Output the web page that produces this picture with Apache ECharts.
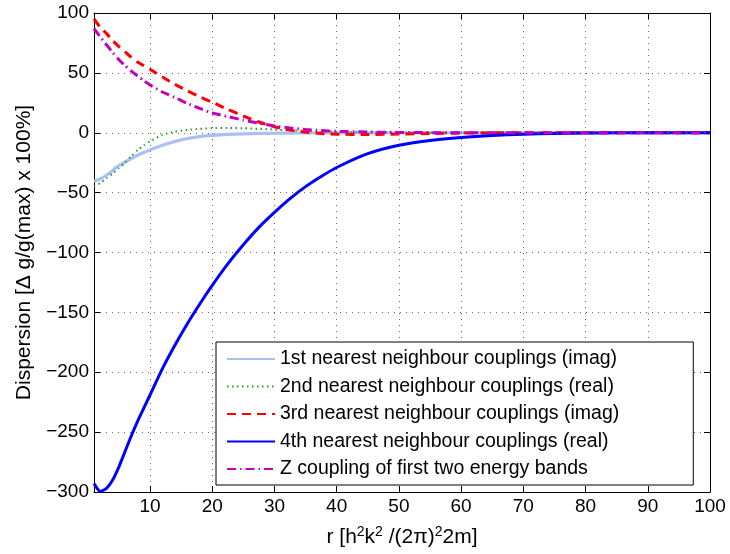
<!DOCTYPE html>
<html><head><meta charset="utf-8">
<script src="https://cdn.jsdelivr.net/npm/echarts@6/dist/echarts.min.js"></script>
<style>html,body{margin:0;padding:0;background:#fff}#c{width:730px;height:554px}</style>
</head><body><div id="c"></div>
<script>
// r values (x axis)
const rValues = [1,2,3,4,5,6,7,8,9,10,12,14,16,18,20,22.5,25,27.5,30,32.5,35,37.5,40,45,50,55,60,65,70,75,80,85,90,95,100];
// 1st nearest neighbour couplings (imag)
const firstImag = [-40.5,-38.5,-35.5,-31.5,-27.5,-24.5,-21.5,-18.8,-16.5,-14.3,-10.5,-7.3,-4.8,-3.2,-2.2,-1.4,-0.9,-0.6,-0.4,-0.25,-0.15,-0.1,-0.05,0,0,0,0,0,0,0,0,0,0,0,0];
// 2nd nearest neighbour couplings (real)
const secondReal = [-45,-42,-38,-34,-29.5,-25,-19.5,-14.5,-10.5,-7.2,-1.8,1.0,2.4,3.3,3.8,4.0,3.8,3.3,2.7,2.0,1.5,1.0,0.7,0.3,0.1,0,0,0,0,0,0,0,0,0,0];
// 3rd nearest neighbour couplings (imag)
const thirdImag = [95,88,83,77,72,67.5,63,59,56,53,46.5,40.5,35,30,25.5,19.5,14,9,5,2.2,0.5,-0.6,-1.2,-1.5,-1.1,-0.6,-0.3,-0.1,0,0,0,0,0,0,0];
// 4th nearest neighbour couplings (real)
const fourthReal = [-293,-299.5,-297,-290,-279,-266,-253,-241,-230,-219,-197,-177.5,-159.5,-143,-127.5,-109.5,-93.5,-79,-66.5,-55,-45,-36.5,-29,-17.5,-10.5,-6.5,-3.9,-2.2,-1.2,-0.6,-0.3,-0.1,0,0,0];
// Z coupling of first two energy bands
const zCoupling = [87,80,73.5,67,61,56,51.5,47.5,43.5,40,34,29.5,24.5,20.3,16.5,13.5,10.5,8,5.6,4,2.7,1.8,1.2,0.6,0.3,0.1,0,0,0,0,0,0,0,0,0];

const seriesNames = [
  '1st nearest neighbour couplings (imag)',
  '2nd nearest neighbour couplings (real)',
  '3rd nearest neighbour couplings (imag)',
  '4th nearest neighbour couplings (real)',
  'Z coupling of first two energy bands'
];
const xTicks = [10,20,30,40,50,60,70,80,90,100];
const yMin = -300, yMax = 100, yStep = 50;
const xMin = 1, xMax = 100;

const FONT = '"Liberation Sans", Arial, Helvetica, sans-serif';
const pair = ys => rValues.map((r, i) => [r, ys[i]]);
const styles = [
  {color: '#a9bff5', width: 3.2, type: 'solid'},
  {color: '#2e9a2e', width: 2, type: [1.5, 3.5]},
  {color: '#ff0000', width: 3, type: [9, 6]},
  {color: '#0000ff', width: 3, type: 'solid'},
  {color: '#c000c0', width: 3, type: [9, 4, 1.5, 4]}
];
const datasets = [firstImag, secondReal, thirdImag, fourthReal, zCoupling];

const gridLine = {show: true, lineStyle: {color: '#666', width: 1, type: [1, 5]}};
const chart = echarts.init(document.getElementById('c'), null, {renderer: 'canvas'});
chart.setOption({
  animation: false,
  backgroundColor: '#fff',
  textStyle: {fontFamily: FONT},
  grid: {left: 94, right: 20, top: 13, bottom: 62, outerBoundsMode: 'none', containLabel: false},
  xAxis: [{
    type: 'value', min: xMin, max: xMax, position: 'bottom',
    name: '{n|r [h}{s|2}{n|k}{s|2}{n| /(2π)}{s|2}{n|2m]}', nameLocation: 'middle', nameGap: 33,
    nameTextStyle: {fontSize: 21, color: '#000', fontFamily: FONT,
      rich: {
        n: {fontSize: 21, lineHeight: 24, color: '#000', fontFamily: FONT},
        s: {fontSize: 14, lineHeight: 13, verticalAlign: 'top', color: '#000', fontFamily: FONT}
      }},
    axisLine: {show: true, onZero: false, lineStyle: {color: '#000', width: 1}},
    axisTick: {show: true, inside: true, length: 6, customValues: xTicks, lineStyle: {color: '#000'}},
    axisLabel: {customValues: xTicks, fontSize: 19, color: '#000', margin: 5, fontFamily: FONT},
    splitLine: gridLine
  }, {
    type: 'value', min: xMin, max: xMax, position: 'top',
    axisLine: {show: true, onZero: false, lineStyle: {color: '#000', width: 1}},
    axisTick: {show: true, inside: true, length: 6, customValues: xTicks, lineStyle: {color: '#000'}},
    axisLabel: {show: false}, splitLine: {show: false}
  }],
  yAxis: [{
    type: 'value', min: yMin, max: yMax, interval: yStep, position: 'left',
    name: 'Dispersion [Δ g/g(max) x 100%]', nameLocation: 'middle', nameGap: 59,
    nameTextStyle: {fontSize: 21, color: '#000', fontFamily: FONT},
    axisLine: {show: true, onZero: false, lineStyle: {color: '#000', width: 1}},
    axisTick: {show: true, inside: true, length: 6, lineStyle: {color: '#000'}},
    axisLabel: {fontSize: 19, color: '#000', margin: 5, fontFamily: FONT,
      formatter: v => v < 0 ? '\u2212' + Math.abs(v) : String(v)},
    splitLine: gridLine
  }, {
    type: 'value', min: yMin, max: yMax, interval: yStep, position: 'right',
    axisLine: {show: true, onZero: false, lineStyle: {color: '#000', width: 1}},
    axisTick: {show: true, inside: true, length: 6, lineStyle: {color: '#000'}},
    axisLabel: {show: false}, splitLine: {show: false}
  }],
  legend: {
    orient: 'vertical', left: 216, top: 342,
    padding: [7, 74, 6, 10],
    itemWidth: 48, itemHeight: 14, itemGap: 7.5,
    backgroundColor: '#fff', borderColor: '#000', borderWidth: 1,
    itemStyle: {opacity: 0, borderWidth: 0},
    textStyle: {fontSize: 19.5, lineHeight: 20, color: '#000', fontFamily: FONT},
    data: seriesNames
  },
  series: datasets.map((ys, i) => ({
    name: seriesNames[i], type: 'line', xAxisIndex: 0, yAxisIndex: 0,
    data: pair(ys), showSymbol: false, symbol: 'none',
    smooth: 0.2,
    lineStyle: styles[i], itemStyle: {color: styles[i].color},
    z: 2 + i
  }))
});
</script></body></html>
